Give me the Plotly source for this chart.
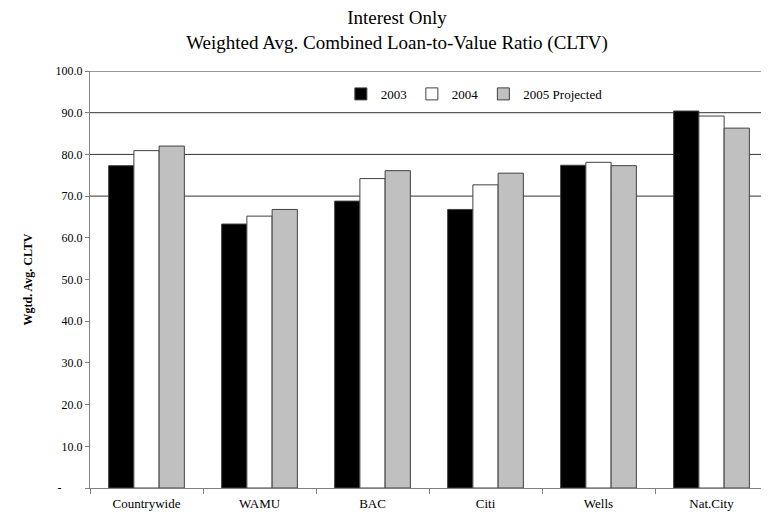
import plotly.graph_objects as go

categories = ["Countrywide", "WAMU", "BAC", "Citi", "Wells", "Nat.City"]
series_names = ["2003", "2004", "2005 Projected"]
values_2003 = [77.3, 63.3, 68.8, 66.8, 77.4, 90.4]
values_2004 = [80.9, 65.2, 74.2, 72.7, 78.1, 89.2]
values_2005 = [82.0, 66.8, 76.1, 75.5, 77.3, 86.3]
series_colors = ["#000000", "#FFFFFF", "#C0C0C0"]

y_tick_values = [0, 10, 20, 30, 40, 50, 60, 70, 80, 90, 100]
y_tick_labels = ["-\u00a0\u00a0\u00a0\u00a0\u00a0\u00a0\u00a0", "10.0", "20.0", "30.0", "40.0", "50.0",
                 "60.0", "70.0", "80.0", "90.0", "100.0"]
grid_values = [70, 80, 90, 100]

FONT = "Times New Roman, Liberation Serif, serif"

fig = go.Figure()
for name, vals, col in zip(series_names, [values_2003, values_2004, values_2005], series_colors):
    fig.add_trace(go.Bar(
        x=categories, y=vals, name=name,
        marker=dict(color=col, line=dict(color="#404040", width=1)),
    ))

shapes = [
    dict(type="line", xref="paper", yref="y", x0=0, x1=1, y0=g, y1=g,
         line=dict(color="#333333", width=1), layer="below")
    for g in grid_values
]

W, H = 761, 506
fig.update_layout(
    width=W, height=H,
    margin=dict(l=82, r=1, t=63, b=26),
    paper_bgcolor="white", plot_bgcolor="white",
    font=dict(family=FONT, color="black", size=12),
    barmode="group", bargap=0.33, bargroupgap=0,
    title=dict(
        text="Interest Only<br>Weighted Avg. Combined Loan-to-Value Ratio (CLTV)",
        xref="container", x=(397 - 8) / W, xanchor="center",
        yref="container", y=1 - 16 / H, yanchor="top",
        font=dict(family=FONT, size=19, color="black"),
    ),
    legend=dict(
        orientation="h", x=0.37, y=0.945, xanchor="left", yanchor="middle",
        font=dict(family=FONT, size=13), bgcolor="rgba(0,0,0,0)",
        traceorder="normal",
    ),
    shapes=shapes,
    xaxis=dict(
        showline=True, linecolor="#808080", linewidth=1,
        ticks="outside", tickson="boundaries", ticklen=5, tickcolor="#808080",
        showgrid=False, tickfont=dict(family=FONT, size=13), ticklabelstandoff=3,
    ),
    yaxis=dict(
        range=[0, 100], tickvals=y_tick_values, ticktext=y_tick_labels,
        showline=True, linecolor="#808080", linewidth=1,
        ticks="outside", ticklen=4, tickcolor="#808080",
        showgrid=False, zeroline=False,
        tickfont=dict(family=FONT, size=12),
        title=dict(text="<b>Wgtd. Avg. CLTV</b>", font=dict(family=FONT, size=12), standoff=20),
    ),
)

fig.write_html("out.html")
